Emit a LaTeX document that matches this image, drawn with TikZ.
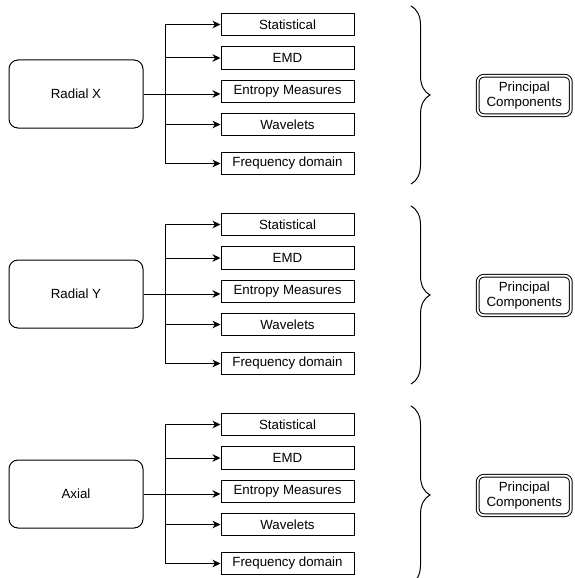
\documentclass[tikz,border=0pt]{standalone}
\usepackage{fontspec}
\setmainfont{Liberation Sans}
\usetikzlibrary{arrows.meta,decorations.pathreplacing,calc}
\begin{document}
\begin{tikzpicture}[x=1pt,y=-1pt,
  font=\fontsize{13.3}{15.8}\selectfont,
  line width=1pt,
  srcbox/.style={draw, rounded corners=9pt, minimum width=134pt, minimum height=68pt, inner sep=0pt},
  featbox/.style={draw, minimum width=133pt, minimum height=22.5pt, inner sep=0pt},
  pcbox/.style={draw, double, double distance=1.8pt, rounded corners=6pt, minimum width=93pt, minimum height=39.4pt, inner sep=0pt, align=center},
  conn/.style={-{Stealth[length=8pt,width=7.5pt,inset=2.5pt]}},
  bracestyle/.style={decorate, decoration={brace, amplitude=19pt}}
]
\useasboundingbox (0,0) rectangle (574,578);
\clip (0,0) rectangle (574,578);
\foreach \g/\lab in {0/Radial X, 1/Radial Y, 2/Axial} {
  \begin{scope}[shift={(0,200*\g)}]
    \node[srcbox] (src\g) at (76,94) {\lab};
    \node[featbox] (st\g) at (287.5,24.5) {Statistical};
    \node[featbox] (emd\g) at (287.5,58) {EMD};
    \node[featbox] (ent\g) at (287.5,91.5) {Entropy Measures};
    \node[featbox] (wav\g) at (287.5,124.5) {Wavelets};
    \node[featbox] (fr\g) at (287.5,163.5) {Frequency domain};
    \node[pcbox] (pc\g) at (524.25,95.5) {Principal\\Components};
    \coordinate (tr\g) at (165,94);
    \coordinate (bt\g) at (411,6);
    \coordinate (bb\g) at (411,184);
    \draw (tr\g |- st\g.west) -- (tr\g |- fr\g.west);
    \draw[conn] (src\g.east) -- (src\g.east -| ent\g.west);
    \foreach \n in {st,emd,wav,fr} {
      \draw[conn] (tr\g |- \n\g.west) -- (\n\g.west);
    }
    \draw[bracestyle] (bt\g) -- (bb\g);
  \end{scope}
}
\end{tikzpicture}
\end{document}
